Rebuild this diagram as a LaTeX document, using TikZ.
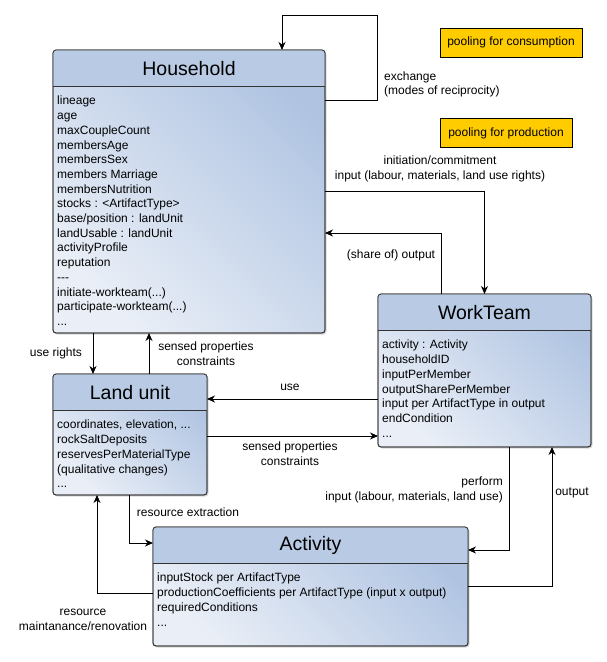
\documentclass[tikz,border=0pt]{standalone}
\usepackage{fontspec}
\setmainfont{Liberation Sans}
\usetikzlibrary{positioning, arrows.meta, shadows}

\definecolor{headblue}{RGB}{184,202,228}
\definecolor{bodylight}{RGB}{234,239,247}
\definecolor{bodydark}{RGB}{176,196,226}
\definecolor{poolgold}{RGB}{255,204,0}

\newcommand{\bodyfont}{\fontsize{12}{14.7}\selectfont}
\newcommand{\titlefont}{\fontsize{19.5}{23}\selectfont}

\tikzset{>={Stealth[length=8pt, width=7pt, inset=2.5pt]},
  umlbox/.style={draw=black!80, line width=0.8pt, rounded corners=3pt, outer sep=0pt,
    anchor=north west, left color=bodylight, right color=bodydark, shading angle=135,
    drop shadow={shadow xshift=1.5pt, shadow yshift=-1.5pt, opacity=0.3}},
  umltitle/.style={font=\titlefont, minimum height=36pt, inner sep=0pt, anchor=north},
  umlbody/.style={font=\bodyfont, align=left, inner sep=0pt, anchor=north west},
  pool/.style={draw, line width=0.8pt, fill=poolgold, font=\bodyfont, minimum height=29pt},
  lbl/.style={font=\bodyfont, inner sep=1pt},
  flow/.style={->, line width=0.9pt}}

\begin{document}
\begin{tikzpicture}[x=1pt, y=-1pt]
    \useasboundingbox (0,0) rectangle (607,662);

    % classes
    \node[umlbox, minimum width=272pt, minimum height=283pt] (hh) at (53,50) {};
    \node[umlbox, minimum width=213pt, minimum height=153pt] (wt) at (378,294) {};
    \node[umlbox, minimum width=154pt, minimum height=121pt] (lu) at (53,374) {};
    \node[umlbox, minimum width=315pt, minimum height=119pt] (act) at (153,527) {};

    % headers
    \foreach \n in {hh, wt, lu, act} {
        \begin{scope}
            \clip[rounded corners=3pt] (\n.north west) rectangle (\n.south east);
            \fill[headblue] (\n.north west) rectangle ([yshift=-36pt]\n.north east);
        \end{scope}
        \draw[black!80, line width=0.8pt, rounded corners=3pt] (\n.north west) rectangle (\n.south east);
        \draw[black!80, line width=0.8pt] ([yshift=-36pt]\n.north west) -- ([yshift=-36pt]\n.north east);
    }

    \node[umltitle] (hh-title) at (hh.north) {Household};
    \node[umltitle] (wt-title) at (wt.north) {WorkTeam};
    \node[umltitle] (lu-title) at (lu.north) {Land unit};
    \node[umltitle] (act-title) at (act.north) {Activity};

    \node[umlbody] (hh-body) at ([xshift=4pt, yshift=-46pt]hh.north west)
        {lineage\\age\\maxCoupleCount\\membersAge\\membersSex\\members Marriage\\membersNutrition\\
         stocks : <ArtifactType>\\base/position : landUnit\\landUsable : landUnit\\activityProfile\\
         reputation\\{-}{-}{-}\\initiate-workteam(...)\\participate-workteam(...)\\...};
    \node[umlbody] (wt-body) at ([xshift=4pt, yshift=-46pt]wt.north west)
        {activity : Activity\\householdID\\inputPerMember\\outputSharePerMember\\
         input per ArtifactType in output\\endCondition\\...};
    \node[umlbody] (lu-body) at ([xshift=4pt, yshift=-46pt]lu.north west)
        {coordinates, elevation, ...\\rockSaltDeposits\\reservesPerMaterialType\\
         (qualitative changes)\\...};
    \node[umlbody] (act-body) at ([xshift=4pt, yshift=-46pt]act.north west)
        {inputStock per ArtifactType\\productionCoefficients per ArtifactType (input x output)\\
         requiredConditions\\...};

    % pooling notes
    \node[pool, minimum width=142pt] (consume) at (511,42.5) {pooling for consumption};
    \node[pool, minimum width=132pt] (produce) at (506,133) {pooling for production};

    % connectors
    \draw[flow] (hh.east |- 0,100) -- (377,100) |- (282,15) -- (hh.north -| 282,0);
    \draw[flow] (hh.east |- 0,191) -| (wt.north);
    \draw[flow] (wt.north -| 441,0) |- (hh.east |- 0,233);
    \draw[flow] (hh.south -| 93,0) -- (lu.north -| 93,0);
    \draw[flow] (lu.north -| 149,0) -- (hh.south -| 149,0);
    \draw[flow] (wt.west |- 0,399) -- (lu.east |- 0,399);
    \draw[flow] (lu.east |- 0,436) -- (wt.west |- 0,436);
    \draw[flow] (lu.south -| 129,0) |- (act.west |- 0,543);
    \draw[flow] (act.west |- 0,593) -| (lu.south -| 97,0);
    \draw[flow] (wt.south -| 509,0) |- (act.east |- 0,550);
    \draw[flow] (act.east |- 0,586) -| (wt.south -| 552,0);

    % connector labels
    \node[lbl, align=left, anchor=west] (l-exchange) at (383,84.5) {exchange\\(modes of reciprocity)};
    \node[lbl, align=center] (l-init) at (440,169) {initiation/commitment\\input (labour, materials, land use rights)};
    \node[lbl] (l-share) at (391,255) {(share of) output};
    \node[lbl] (l-rights) at (56,353) {use rights};
    \node[lbl, align=center] (l-sensed1) at (206,354) {sensed properties\\constraints};
    \node[lbl] (l-use) at (290,387) {use};
    \node[lbl, align=center] (l-sensed2) at (290,454) {sensed properties\\constraints};
    \node[lbl, align=right, anchor=east] (l-perform) at (504,490) {perform\\input (labour, materials, land use)};
    \node[lbl] (l-output) at (572,493) {output};
    \node[lbl] (l-extract) at (188,512) {resource extraction};
    \node[lbl, align=center] (l-maint) at (83,620) {resource\\maintanance/renovation};
\end{tikzpicture}
\end{document}
